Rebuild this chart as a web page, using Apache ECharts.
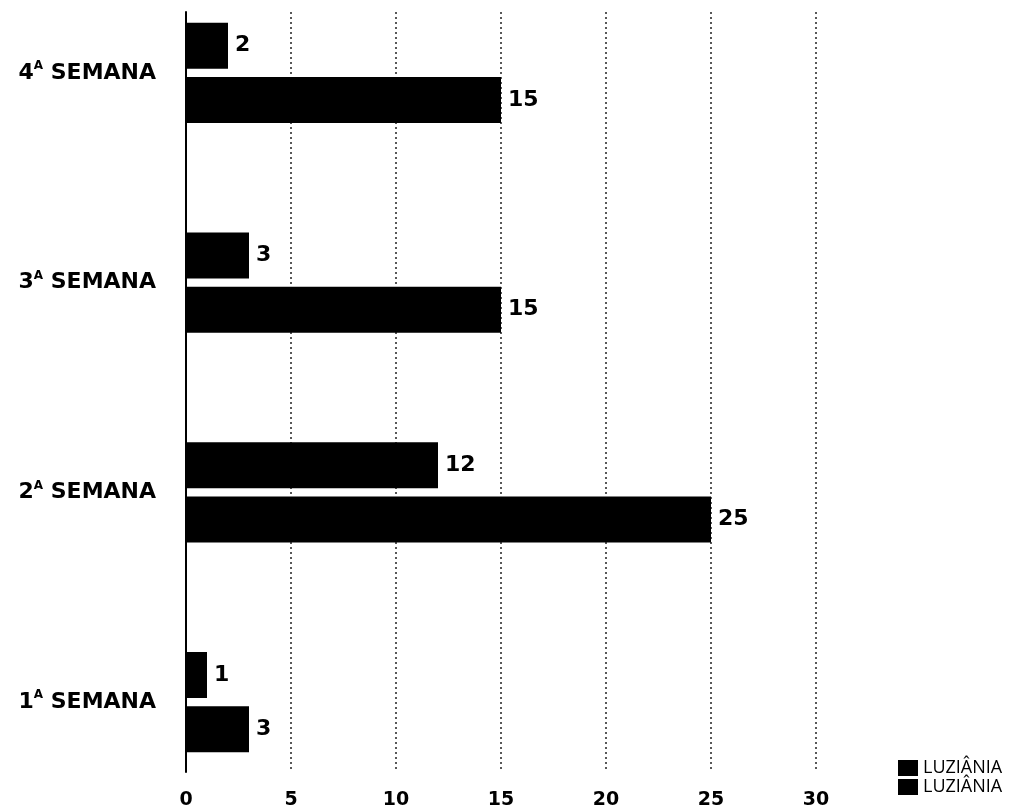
<!DOCTYPE html>
<html>
<head>
<meta charset="utf-8">
<script src="https://cdn.jsdelivr.net/npm/echarts@6/dist/echarts.min.js"></script>
<style>
  html, body { margin: 0; padding: 0; background: #fff; }
  #chart { width: 1015px; height: 808px; }
</style>
</head>
<body>
<div id="chart"></div>
<script>
// Weekly counts, two bars per week
const weeks = ['1ª SEMANA', '2ª SEMANA', '3ª SEMANA', '4ª SEMANA'];
const upperBars = [1, 12, 3, 2];
const lowerBars = [3, 25, 15, 15];
const seriesName = 'LUZIÂNIA';
const xTicks = { min: 0, max: 30, step: 5 };

const BOLD_FONT = '"DejaVu Sans", "Open Sans", sans-serif';
const LIGHT_FONT = '"Open Sans", "Noto Sans", sans-serif';

const chart = echarts.init(document.getElementById('chart'), null, { renderer: 'canvas' });

const barLabel = {
  show: true,
  position: 'right',
  distance: 7,
  color: '#000',
  fontFamily: BOLD_FONT,
  fontWeight: 'bold',
  fontSize: 22
};

const legendCommon = {
  left: 893, data: [seriesName], icon: 'rect',
  itemWidth: 20, itemHeight: 16, itemGap: 6, selectedMode: false,
  textStyle: { fontFamily: LIGHT_FONT, fontSize: 18, color: '#000' }
};

chart.setOption({
  backgroundColor: '#fff',
  animation: false,
  grid: [
    // bars
    { left: 186, right: 199, top: -32, bottom: 1, outerBoundsMode: 'none' },
    // dotted grid and value scale
    { left: 186, right: 199, top: 12, bottom: 36, outerBoundsMode: 'none' }
  ],
  xAxis: [
    {
      gridIndex: 0, type: 'value', min: xTicks.min, max: xTicks.max, interval: xTicks.step,
      show: false
    },
    {
      gridIndex: 1, type: 'value', min: xTicks.min, max: xTicks.max, interval: xTicks.step,
      axisLine: { show: false },
      axisTick: { show: false },
      splitLine: { show: true, lineStyle: { color: '#222', width: 1.5, type: [2, 3] } },
      axisLabel: {
        margin: 19, color: '#000', fontFamily: BOLD_FONT, fontWeight: 'bold', fontSize: 19
      }
    }
  ],
  yAxis: [
    {
      gridIndex: 0, type: 'category', data: weeks,
      axisLine: { show: false },
      axisTick: { show: false },
      axisLabel: {
        margin: 30,
        formatter: v => v.replace(/^(\d)ª (.*)$/, '{n|$1}{s|A}{n| $2}'),
        rich: {
          n: { fontFamily: BOLD_FONT, fontWeight: 'bold', fontSize: 22, color: '#000', lineHeight: 26 },
          s: { fontFamily: BOLD_FONT, fontWeight: 'bold', fontSize: 12, color: '#000', lineHeight: 26, verticalAlign: 'top', padding: [0, 0, 11, 0] }
        }
      }
    },
    {
      gridIndex: 1, type: 'value', min: 0, max: 1,
      axisLine: { show: true, lineStyle: { color: '#000', width: 2 } },
      axisTick: { show: false },
      axisLabel: { show: false },
      splitLine: { show: false }
    }
  ],
  legend: [
    Object.assign({ top: 754 }, legendCommon),
    Object.assign({ top: 773 }, legendCommon)
  ],
  series: [
    {
      name: seriesName, type: 'bar', xAxisIndex: 0, yAxisIndex: 0,
      data: upperBars, barWidth: 46, barGap: '18%',
      itemStyle: { color: '#000' }, label: barLabel
    },
    {
      name: seriesName, type: 'bar', xAxisIndex: 0, yAxisIndex: 0,
      data: lowerBars, barWidth: 46, barGap: '18%',
      itemStyle: { color: '#000' }, label: barLabel
    }
  ]
});
</script>
</body>
</html>
